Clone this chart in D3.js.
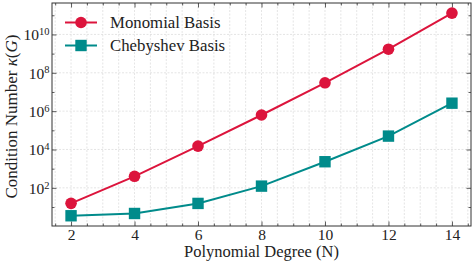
<!DOCTYPE html>
<html>
<head>
<meta charset="utf-8">
<script src="https://cdn.jsdelivr.net/npm/d3@7"></script>
<style>
  html, body { margin: 0; padding: 0; background: #fff; }
  text { font-family: "Liberation Serif", "DejaVu Serif", serif; fill: #222; }
</style>
</head>
<body>
<div id="chart"></div>
<script>
// values
const degrees = [2, 4, 6, 8, 10, 12, 14];
const monomial = [15.5, 400, 1.5e4, 6.3e5, 3.0e7, 1.7e9, 1.3e11];
const chebyshev = [3.5, 4.6, 15.4, 123, 2300, 5.0e4, 2.6e6];
const xTicks = [2, 4, 6, 8, 10, 12, 14];
const yTickExps = [2, 4, 6, 8, 10];

const W = 475, H = 266;
const margin = {left: 52, right: 4, top: 3, bottom: 40};
const innerW = W - margin.left - margin.right;
const innerH = H - margin.top - margin.bottom;

const svg = d3.select('#chart')
    .append('svg')
    .attr('width', W)
    .attr('height', H);

const g = svg.append('g')
    .attr('transform', `translate(${margin.left},${margin.top})`);

const x = d3.scaleLinear()
    .domain([1.4, 14.6])
    .range([0, innerW]);

const y = d3.scaleLog()
    .domain([Math.pow(10, 0.01), Math.pow(10, 11.64)])
    .range([innerH, 0]);

// grid: vertical every 0.5, horizontal at major decades
const xMinor = d3.range(1.5, 14.51, 0.5);
g.append('g').selectAll('line')
    .data(xMinor)
    .enter().append('line')
    .attr('x1', d => x(d)).attr('x2', d => x(d))
    .attr('y1', 0).attr('y2', innerH)
    .attr('stroke', '#d4d4d4')
    .attr('stroke-width', 0.6)
    .attr('stroke-dasharray', '2,1.5');

g.append('g').selectAll('line')
    .data(yTickExps)
    .enter().append('line')
    .attr('x1', 0).attr('x2', innerW)
    .attr('y1', d => y(Math.pow(10, d))).attr('y2', d => y(Math.pow(10, d)))
    .attr('stroke', '#d4d4d4')
    .attr('stroke-width', 0.6)
    .attr('stroke-dasharray', '2,1.5');

// axes, ticks pointing inward on all four sides
const yMinorVals = d3.range(1, 12).filter(e => e % 2 === 1).map(e => Math.pow(10, e));

function axisGroup(tr, gen) {
    const ax = g.append('g').attr('transform', tr).call(gen);
    ax.select('.domain').remove();
    ax.selectAll('line').attr('stroke', '#333').attr('stroke-width', 0.8);
    return ax;
}

const xb = axisGroup(`translate(0,${innerH})`, d3.axisBottom(x).tickValues(xTicks).tickSizeInner(-4.5).tickPadding(3).tickFormat(d3.format('d')));
xb.selectAll('text').attr('font-size', 15.5).attr('fill', '#222').attr('font-family', '"Liberation Serif", serif');
axisGroup(`translate(0,${innerH})`, d3.axisBottom(x).tickValues(xMinor.filter(d => d % 2 !== 0)).tickSizeInner(-2.5).tickFormat(''));
axisGroup('translate(0,0)', d3.axisTop(x).tickValues(xTicks).tickSizeInner(-4.5).tickFormat(''));
axisGroup('translate(0,0)', d3.axisTop(x).tickValues(xMinor.filter(d => d % 2 !== 0)).tickSizeInner(-2.5).tickFormat(''));

const yl = axisGroup('translate(0,0)', d3.axisLeft(y).tickValues(yTickExps.map(e => Math.pow(10, e))).tickSizeInner(-4.5).tickFormat(''));
yl.selectAll('.tick').each(function(d) {
    const t = d3.select(this).append('text')
        .attr('x', -2.5).attr('dy', '0.35em')
        .attr('text-anchor', 'end')
        .attr('font-size', 15.5).attr('fill', '#222');
    t.append('tspan').text('10');
    t.append('tspan').attr('dy', '-0.5em').attr('font-size', 10.5).text(Math.round(Math.log10(d)));
});
axisGroup('translate(0,0)', d3.axisLeft(y).tickValues(yMinorVals).tickSizeInner(-2.5).tickFormat(''));
axisGroup(`translate(${innerW},0)`, d3.axisRight(y).tickValues(yTickExps.map(e => Math.pow(10, e))).tickSizeInner(-4.5).tickFormat(''));
axisGroup(`translate(${innerW},0)`, d3.axisRight(y).tickValues(yMinorVals).tickSizeInner(-2.5).tickFormat(''));

// frame
g.append('rect')
    .attr('width', innerW).attr('height', innerH)
    .attr('fill', 'none').attr('stroke', '#333').attr('stroke-width', 1);

// series
const series = [
    {name: 'Monomial Basis', values: monomial, color: '#DC143C', shape: 'circle'},
    {name: 'Chebyshev Basis', values: chebyshev, color: '#008B8B', shape: 'square'}
];

const line = d3.line()
    .x(d => x(d[0]))
    .y(d => y(d[1]));

function drawMarker(sel, shape, color) {
    if (shape === 'circle') {
        sel.append('circle').attr('r', 5.8).attr('fill', color);
    } else {
        sel.append('rect').attr('x', -5.7).attr('y', -5.7).attr('width', 11.4).attr('height', 11.4).attr('fill', color);
    }
}

series.forEach(s => {
    const pts = degrees.map((d, i) => [d, s.values[i]]);
    g.append('path')
        .datum(pts)
        .attr('d', line)
        .attr('fill', 'none')
        .attr('stroke', s.color)
        .attr('stroke-width', 2);
    pts.forEach(p => {
        const m = g.append('g').attr('transform', `translate(${x(p[0])},${y(p[1])})`);
        drawMarker(m, s.shape, s.color);
    });
});

// legend
const legend = g.append('g').attr('transform', 'translate(13,19.5)');
series.forEach((s, i) => {
    const row = legend.append('g').attr('transform', `translate(0,${i * 23})`);
    row.append('line')
        .attr('x1', 0).attr('x2', 32)
        .attr('stroke', s.color).attr('stroke-width', 2);
    drawMarker(row.append('g').attr('transform', 'translate(16,0)'), s.shape, s.color);
    row.append('text')
        .attr('x', 45).attr('dy', '0.35em')
        .attr('font-size', 16.8)
        .text(s.name);
});

// axis labels
svg.append('text')
    .attr('x', margin.left + innerW / 2)
    .attr('y', 257)
    .attr('text-anchor', 'middle')
    .attr('font-size', 16.5)
    .text('Polynomial Degree (N)');

const yLabel = svg.append('text')
    .attr('transform', `translate(17,${margin.top + innerH / 2 + 2}) rotate(-90)`)
    .attr('text-anchor', 'middle')
    .attr('font-size', 17);
yLabel.append('tspan').text('Condition Number ');
yLabel.append('tspan').attr('font-style', 'italic').text('κ');
yLabel.append('tspan').text('(');
yLabel.append('tspan').attr('font-style', 'italic').text('G');
yLabel.append('tspan').text(')');
</script>
</body>
</html>
